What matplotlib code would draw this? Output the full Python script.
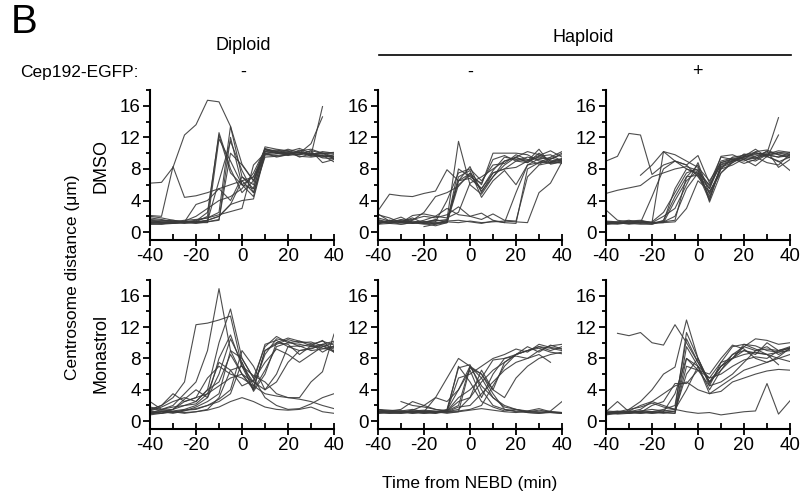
import numpy as np
import matplotlib
matplotlib.use("Agg")
import matplotlib.pyplot as plt
from matplotlib.ticker import MultipleLocator

plt.rcParams['font.family'] = ['Liberation Sans', 'DejaVu Sans']
plt.rcParams['axes.unicode_minus'] = False

# time points (min from NEBD), every 5 min
time = np.arange(-40, 45, 5)
N = None

# Diploid, DMSO
dip_dmso = [
    [6.2, 6.3, 8.2, 12.3, 13.6, 16.7, 16.5, 13.4, 8.6, 6.5, 10.5, 10.2, 10.0, 9.8, 10.3, 10.0, 9.6],
    [2.1, 2.0, 8.3, 4.4, 4.6, 5.0, 5.5, 6.0, 6.5, 7.0, 10.5, 10.0, 9.8, 10.2, 9.6, 9.8, 9.5],
    [1.3, 1.2, 1.2, 1.3, 1.3, 2.0, 12.6, 8.0, 5.0, 6.5, 10.3, 10.4, 10.1, 10.0, 9.9, 10.0, 9.9],
    [1.5, 1.4, 1.3, 1.2, 1.4, 2.5, 12.3, 7.5, 6.0, 7.0, 10.0, 9.5, 9.8, 10.3, 10.5, 10.0, 9.3],
    [1.2, 1.2, 1.1, 1.3, 1.5, 1.8, 2.5, 13.4, 7.0, 5.5, 10.6, 10.2, 9.9, 10.1, 9.7, 15.9, N],
    [2.0, 1.8, 1.5, 1.3, 1.2, 1.3, 1.5, 12.0, 6.0, 4.5, 10.2, 10.3, 10.3, 10.0, 11.2, 14.6, N],
    [1.0, 1.1, 1.2, 1.1, 1.3, 1.5, 2.0, 3.5, 6.5, 5.0, 9.8, 9.7, 9.9, 10.1, 9.8, 10.2, 10.0],
    [1.4, 1.3, 1.2, 1.4, 2.0, 3.0, 4.0, 4.5, 5.5, 7.5, 10.5, 10.0, 10.0, 9.6, 9.5, 9.7, 8.9],
    [1.1, 1.0, 1.3, 1.5, 1.6, 1.8, 2.2, 2.6, 3.0, 8.5, 10.0, 10.2, 9.7, 9.9, 10.3, 8.8, 9.2],
    [1.6, 1.5, 1.4, 1.2, 1.3, 1.4, 6.5, 11.5, 7.8, 5.0, 9.5, 9.6, 9.8, 10.4, 9.8, 9.5, 9.8],
    [1.2, 1.4, 1.5, 1.3, 3.5, 4.0, 5.5, 4.0, 7.0, 6.0, 10.8, 10.5, 10.3, 9.5, 9.9, 9.7, 9.4],
    [1.8, 1.6, 1.3, 1.2, 1.1, 1.3, 1.6, 10.0, 8.5, 6.5, 9.8, 9.9, 10.2, 10.6, 10.0, 9.6, 9.6],
    [1.3, 1.2, 1.1, 1.2, 1.2, 1.2, 11.8, 9.0, 6.0, 5.5, 10.2, 10.0, 10.5, 10.1, 9.7, 10.0, 10.1],
    [1.0, 1.0, 1.1, 1.3, 1.2, 1.5, 2.0, 3.5, 4.0, 4.2, 9.9, 10.1, 10.0, 9.8, 10.0, 9.4, 9.3],
]

# Haploid, Cep192-EGFP -, DMSO
hap_dmso = [
    [2.7, 4.8, 4.6, 4.5, 4.9, 5.2, 7.9, 6.5, 6.8, 5.5, 7.5, 8.0, 9.0, 9.5, 9.2, 8.8, 9.0],
    [1.2, 1.5, 1.3, 1.1, 1.3, 1.4, 1.6, 11.5, 6.0, 4.8, 7.0, 8.5, 9.5, 10.2, 9.8, 9.0, 9.3],
    [2.2, 1.8, 1.2, 1.5, 2.5, 4.5, 5.0, 5.8, 7.5, 6.0, 10.0, 10.0, 10.0, 9.8, 9.0, 8.7, 8.9],
    [1.0, 1.1, 1.4, 1.2, 1.3, 1.0, 1.5, 6.5, 8.3, 5.0, 7.5, 8.0, 8.2, 9.0, 9.5, 9.2, 10.0],
    [1.5, 1.2, 1.3, 1.8, 1.1, 1.2, 1.3, 7.0, 7.8, 4.4, 6.5, 7.8, 6.0, 8.5, 9.3, 9.4, 9.0],
    [1.2, 1.3, 1.5, 1.6, 2.0, 1.8, 2.2, 3.2, 2.0, 1.6, 2.3, 1.5, 1.4, 7.0, 8.5, 8.8, 9.2],
    [1.3, 1.1, 1.0, 1.2, 1.0, 1.1, 1.3, 1.2, 1.4, 1.2, 1.3, 1.4, 1.3, 1.2, 5.0, 6.2, 8.9],
    [2.3, 1.4, 1.9, 1.2, 1.1, 0.8, 1.2, 6.0, 7.2, 5.5, 7.8, 9.5, 9.2, 9.0, 10.5, 8.6, 8.9],
    [1.6, 1.2, 1.4, 1.1, 1.3, 1.5, 1.4, 1.5, 1.3, 1.1, 1.4, 1.2, 1.1, 8.0, 8.8, 9.5, 10.2],
    [1.0, 1.5, 1.2, 1.4, 1.2, 1.6, 1.2, 8.0, 7.0, 6.2, 9.2, 9.7, 9.0, 8.8, 9.6, 9.8, 9.0],
    [N, N, N, N, 0.7, 1.0, 1.2, 6.5, 7.4, 5.2, 7.0, 9.0, 9.4, 9.1, 9.7, 10.3, 9.5],
    [1.8, 1.4, 1.2, 2.1, 2.3, 2.0, 3.0, 2.2, 2.0, 2.4, 1.5, 1.2, 5.0, 8.5, 8.8, 8.9, 9.3],
    [1.1, 1.3, 1.0, 1.2, 1.5, 2.0, 1.8, 2.5, 6.2, 7.0, 8.0, 9.0, 9.5, 8.8, 10.0, 9.0, 8.7],
    [1.4, 1.2, 1.6, 1.3, 1.1, 1.3, 4.0, 7.5, 8.0, 6.5, 8.5, 8.7, 9.8, 9.2, 8.6, 9.3, 9.8],
]

# Haploid, Cep192-EGFP +, DMSO
cep_dmso = [
    [9.0, 9.6, 12.5, 12.3, 7.3, 8.5, 9.0, 8.0, 7.5, 6.0, 8.5, 9.0, 9.5, 10.0, 9.8, 9.5, 9.7],
    [4.9, 5.3, 5.6, 5.9, 7.0, 7.5, 8.0, 8.3, 7.8, 5.5, 8.8, 9.2, 9.0, 9.6, 10.2, 9.8, 9.4],
    [2.8, 1.5, 1.3, 1.4, 1.2, 1.3, 2.0, 5.5, 7.5, 4.5, 8.0, 9.5, 9.7, 9.9, 10.0, 14.5, N],
    [1.2, 1.1, 1.3, 1.2, 1.1, 1.2, 4.0, 6.5, 7.8, 4.2, 8.3, 9.0, 9.6, 10.5, 9.5, 12.3, N],
    [1.0, 1.2, 1.4, 1.5, 1.2, 10.2, 9.0, 8.5, 7.0, 5.0, 8.0, 8.5, 9.3, 9.0, 9.8, 10.1, 10.0],
    [1.3, 1.2, 1.1, 1.0, 1.0, 1.5, 4.5, 7.0, 8.5, 3.8, 7.5, 8.8, 9.5, 9.8, 9.6, 9.0, 7.8],
    [1.1, 1.0, 1.2, 1.1, 1.3, 2.5, 5.0, 7.5, 8.0, 5.8, 9.0, 9.4, 9.2, 10.2, 10.4, 9.8, 9.6],
    [N, N, N, 7.2, 8.5, 10.2, 9.8, 9.0, 8.2, 6.5, 8.8, 9.3, 8.7, 9.2, 9.9, 10.3, 10.1],
    [1.2, 1.3, 1.1, 1.4, 1.2, 1.3, 1.5, 7.0, 7.2, 5.5, 9.6, 9.8, 9.2, 8.4, 9.6, 8.9, 9.5],
    [1.4, 1.3, 1.5, 1.2, 1.2, 2.0, 3.0, 6.0, 8.8, 4.8, 8.2, 8.8, 9.9, 9.5, 8.8, 8.5, 9.9],
    [1.1, 1.2, 1.0, 1.2, 4.5, 8.0, 9.0, 8.5, 9.7, 6.2, 9.5, 9.2, 9.8, 10.1, 9.7, 10.0, 9.8],
    [1.0, 1.1, 1.3, 1.2, 1.0, 1.4, 5.5, 8.0, 7.3, 4.0, 8.6, 9.1, 9.4, 9.3, 10.3, 8.2, 9.2],
    [1.3, 1.2, 1.1, 1.3, 1.2, 1.2, 1.3, 3.0, 6.5, 5.2, 7.5, 9.0, 9.6, 9.4, 9.8, 9.5, 10.1],
]

# Diploid, Monastrol
dip_mon = [
    [1.0, 1.5, 2.0, 3.5, 5.0, 9.0, 16.9, 9.0, 6.0, 4.0, 6.5, 9.5, 10.0, 9.8, 9.5, 9.8, 9.4],
    [1.5, 2.0, 3.0, 5.0, 12.3, 12.5, 12.9, 13.4, 7.0, 5.0, 9.8, 10.3, 9.5, 9.0, 9.2, 9.8, 10.2],
    [1.2, 1.0, 1.5, 2.0, 2.5, 4.0, 10.0, 14.3, 8.0, 5.5, 9.5, 10.8, 10.0, 10.2, 9.6, 9.3, 9.0],
    [0.9, 1.2, 1.3, 1.5, 2.0, 3.0, 6.0, 10.5, 7.5, 3.8, 6.0, 10.0, 9.8, 8.5, 9.6, 10.3, 8.8],
    [1.3, 1.8, 2.5, 3.0, 2.5, 4.0, 5.0, 8.5, 6.0, 5.0, 4.0, 6.0, 9.5, 9.6, 9.0, 9.2, 9.5],
    [1.0, 1.0, 1.2, 1.1, 1.2, 1.5, 3.0, 6.5, 7.0, 5.8, 5.0, 3.5, 3.0, 3.0, 5.0, 6.3, 11.1],
    [1.2, 1.3, 1.1, 1.4, 1.5, 2.0, 2.5, 3.5, 7.5, 4.5, 3.5, 3.2, 3.0, 2.8, 2.5, 2.0, 1.6],
    [1.8, 1.5, 1.2, 1.0, 1.2, 1.4, 1.8, 2.5, 3.0, 2.5, 1.8, 1.5, 1.4, 1.5, 1.8, 1.2, 1.0],
    [1.0, 1.2, 1.5, 2.5, 3.0, 5.5, 7.0, 6.0, 5.5, 4.5, 8.5, 10.5, 10.2, 9.5, 9.8, 10.2, 9.7],
    [1.4, 2.0, 3.5, 2.5, 3.0, 3.5, 4.5, 5.5, 6.0, 4.2, 9.0, 9.8, 10.4, 10.0, 10.1, 9.6, 8.8],
    [1.1, 1.2, 1.0, 1.3, 1.8, 2.5, 3.5, 9.0, 8.0, 5.5, 3.0, 2.0, 1.5, 1.6, 2.2, 3.0, 3.5],
    [1.6, 1.4, 1.5, 2.8, 4.0, 3.0, 8.0, 11.0, 7.0, 4.0, 9.0, 10.0, 10.6, 10.2, 9.9, 8.8, 9.6],
    [2.5, 1.5, 1.8, 2.0, 2.2, 3.5, 7.5, 6.5, 4.5, 5.2, 7.5, 9.2, 8.5, 7.5, 8.5, 9.5, 10.0],
    [0.8, 1.0, 1.2, 1.4, 1.6, 2.0, 2.8, 4.0, 9.0, 7.0, 4.0, 5.0, 7.5, 9.0, 9.3, 9.6, 9.2],
]

# Haploid, Cep192-EGFP -, Monastrol
hap_mon = [
    [1.5, 1.2, 1.1, 1.3, 1.2, 3.0, 5.5, 8.0, 7.0, 4.5, 3.0, 2.0, 1.5, 1.3, 1.2, 1.1, 1.0],
    [1.2, 1.3, 1.2, 1.1, 1.0, 1.2, 1.5, 6.8, 7.2, 4.0, 2.0, 1.5, 1.3, 1.2, 1.4, 1.2, 1.1],
    [1.3, 1.1, 1.0, 1.2, 1.1, 1.2, 1.3, 2.0, 7.0, 6.0, 4.0, 7.5, 8.5, 9.0, 9.5, 9.3, 9.0],
    [1.0, 1.2, 1.3, 1.0, 1.2, 1.0, 1.4, 5.5, 6.0, 7.0, 8.0, 8.5, 9.2, 8.8, 9.8, 9.4, 9.2],
    [1.4, 1.3, 1.5, 2.5, 2.0, 1.5, 1.3, 2.5, 3.0, 5.0, 6.5, 7.5, 8.5, 9.0, 9.5, 9.0, 9.5],
    [1.2, 1.1, 1.2, 1.4, 2.0, 3.0, 2.5, 4.0, 7.0, 5.5, 3.0, 1.8, 1.5, 1.2, 1.1, 1.3, 2.5],
    [1.1, 1.0, 1.1, 1.2, 1.0, 1.1, 1.2, 1.5, 3.0, 6.5, 4.0, 3.0, 5.5, 7.0, 8.0, 8.5, 8.8],
    [1.3, 1.2, 1.1, 1.0, 1.2, 1.1, 1.3, 3.0, 4.0, 5.5, 7.8, 8.0, 8.5, 9.5, 8.8, 9.7, 9.2],
    [1.2, 1.3, 1.2, 1.1, 1.1, 1.0, 1.2, 1.3, 1.5, 2.0, 4.5, 7.0, 8.5, 9.0, 9.3, 8.8, 8.6],
    [1.0, 1.1, 1.0, 1.2, 1.3, 1.2, 1.0, 1.2, 6.8, 6.0, 3.5, 1.5, 1.2, 1.1, 1.0, 1.1, 1.0],
    [N, N, 2.5, 2.0, 1.8, 1.5, 1.3, 7.0, 5.0, 2.5, 1.8, 1.3, 1.5, 1.1, 1.0, 1.2, 1.1],
    [1.5, 1.4, 1.3, 1.5, 1.2, 1.1, 1.4, 4.0, 6.5, 3.0, 6.0, 8.0, 8.3, 8.0, 8.5, 7.5, N],
    [1.1, 1.2, 1.3, 1.1, 1.3, 1.2, 1.2, 1.8, 2.0, 3.5, 5.0, 6.5, 7.5, 8.0, 9.0, 9.6, 9.8],
    [1.2, 1.0, 1.1, 1.3, 1.4, 1.3, 1.1, 1.2, 1.4, 1.6, 1.4, 1.2, 1.1, 1.3, 1.6, 1.2, 1.0],
]

# Haploid, Cep192-EGFP +, Monastrol
cep_mon = [
    [N, 11.2, 10.9, 11.3, 10.0, 9.7, 12.3, 10.0, 7.5, 5.0, 6.5, 8.0, 9.5, 10.5, 10.3, 9.8, 10.0],
    [1.0, 1.2, 1.5, 2.5, 4.0, 6.0, 6.9, 12.9, 8.0, 5.0, 7.0, 8.0, 8.5, 8.8, 8.5, 8.0, 7.6],
    [1.2, 2.5, 1.2, 1.5, 2.5, 2.0, 1.5, 11.3, 8.0, 4.8, 7.0, 8.5, 9.5, 9.0, 9.2, 9.0, 9.3],
    [0.9, 1.0, 1.1, 1.0, 1.2, 1.5, 2.0, 10.5, 7.5, 5.0, 7.0, 8.0, 9.8, 9.6, 9.0, 8.8, 9.0],
    [1.1, 1.3, 1.0, 1.2, 1.0, 1.1, 1.0, 7.0, 6.5, 4.5, 5.0, 6.0, 7.5, 9.0, 9.5, 8.5, 9.2],
    [1.0, 1.1, 1.2, 1.0, 1.1, 1.3, 1.5, 1.2, 1.0, 1.1, 0.8, 1.0, 1.2, 1.3, 4.8, 0.9, 2.6],
    [1.2, 1.0, 1.3, 2.0, 2.5, 3.5, 4.5, 5.0, 4.0, 3.5, 3.8, 5.0, 5.5, 6.0, 6.4, 6.6, 6.5],
    [1.0, 1.2, 1.1, 1.3, 1.5, 1.3, 1.2, 8.0, 7.0, 3.5, 4.5, 5.5, 6.5, 7.0, 7.5, 8.0, 8.5],
    [0.8, 1.0, 1.1, 1.2, 1.0, 1.2, 3.5, 8.0, 6.5, 5.5, 7.5, 9.5, 9.8, 9.2, 8.5, 8.8, 9.4],
    [1.1, 0.9, 1.0, 1.3, 1.2, 1.0, 1.3, 6.0, 8.0, 4.5, 7.5, 8.0, 9.0, 8.5, 10.0, 9.0, 9.5],
    [1.3, 1.2, 1.0, 1.1, 1.2, 1.1, 1.0, 9.5, 7.0, 5.5, 6.0, 7.0, 7.8, 8.2, 8.0, 9.0, 9.3],
    [1.0, 1.1, 1.3, 1.1, 2.0, 2.5, 4.8, 4.8, 6.5, 6.0, 8.0, 9.7, 9.2, 8.0, 7.5, 8.2, 9.3],
    [N, N, 1.5, 1.8, 2.3, 1.8, 1.5, 4.0, 7.0, 4.0, 6.5, 8.5, 9.0, 8.7, 8.5, 7.2, N],
]

panels = [[dip_dmso, hap_dmso, cep_dmso], [dip_mon, hap_mon, cep_mon]]

W, H = 802, 498
fig = plt.figure(figsize=(W / 100, H / 100), dpi=100)

lefts = [150, 378, 606]
rows = [(90, 240), (280, 429)]  # top px, bottom px

for r, (top, bot) in enumerate(rows):
    for c, left in enumerate(lefts):
        ax = fig.add_axes([left / W, 1 - bot / H, 184 / W, (bot - top) / H])
        for trace in panels[r][c]:
            y = np.array([np.nan if v is None else v for v in trace], dtype=float)
            ax.plot(time, y, color='#3a3a3a', lw=0.8, alpha=0.9)
        ax.set_xlim(-40, 40)
        ax.set_ylim(-1, 18)
        ax.set_xticks([-40, -20, 0, 20, 40])
        ax.xaxis.set_minor_locator(MultipleLocator(10))
        ax.set_yticks([0, 4, 8, 12, 16])
        ax.yaxis.set_minor_locator(MultipleLocator(2))
        for s in ['top', 'right']:
            ax.spines[s].set_visible(False)
        for s in ['left', 'bottom']:
            ax.spines[s].set_linewidth(1.5)
        ax.tick_params(axis='both', which='major', labelsize=13.5, width=1.3, length=5, pad=1.5)
        ax.tick_params(axis='x', which='major', direction='inout', length=8)
        ax.tick_params(axis='x', which='minor', direction='in', width=1.3, length=4)
        ax.tick_params(axis='y', which='minor', direction='out', width=1.3, length=3)
        ax.set_facecolor('none')


def px(x, y):
    return x / W, 1 - y / H


fig.text(*px(11, 22), 'B', fontsize=29, ha='left', va='center')
fig.text(*px(243, 46), 'Diploid', fontsize=13, ha='center', va='center')
fig.text(*px(583, 37), 'Haploid', fontsize=13, ha='center', va='center')
fig.add_artist(plt.Line2D([379 / W, 791 / W], [1 - 55 / H, 1 - 55 / H], color='black', lw=1.2))
fig.text(*px(20, 72), 'Cep192-EGFP:', fontsize=12.5, ha='left', va='center')
fig.text(*px(243, 72), '-', fontsize=13, ha='center', va='center')
fig.text(*px(470, 72), '-', fontsize=13, ha='center', va='center')
fig.text(*px(697, 72), '+', fontsize=13, ha='center', va='center')
fig.text(*px(72, 277), 'Centrosome distance (μm)', fontsize=12.5, rotation=90, ha='center', va='center')
fig.text(*px(101, 166), 'DMSO', fontsize=13, rotation=90, ha='center', va='center')
fig.text(*px(101, 353), 'Monastrol', fontsize=13, rotation=90, ha='center', va='center')
fig.text(*px(470, 483), 'Time from NEBD (min)', fontsize=12.5, ha='center', va='center')

fig.savefig('out.png', dpi=100)
